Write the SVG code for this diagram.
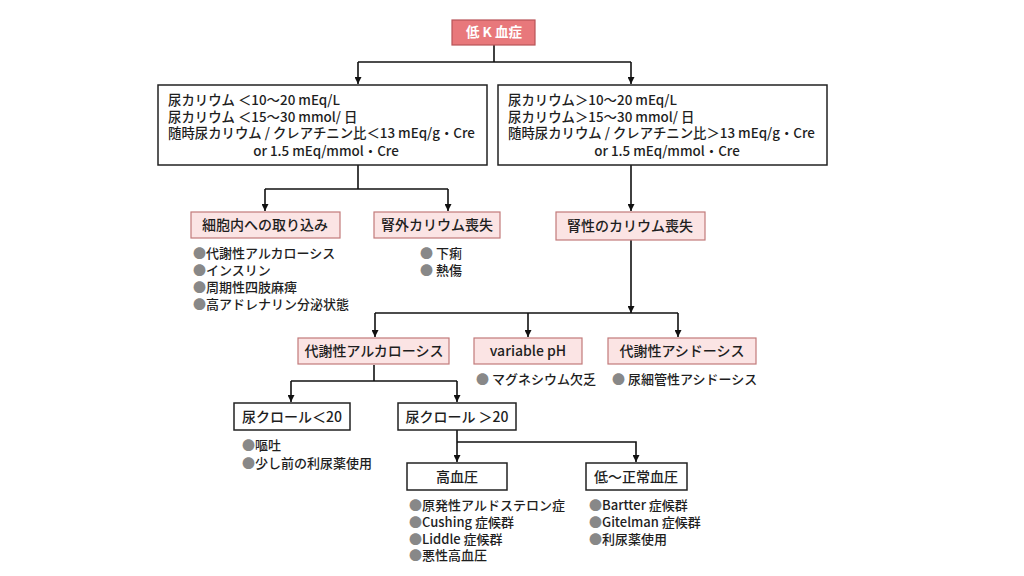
<svg xmlns="http://www.w3.org/2000/svg" width="1024" height="576" viewBox="0 0 1024 576">
<style>
text{font-family:"Noto Sans CJK JP","Noto Sans",sans-serif;fill:#1e1e1e;font-size:13px;font-weight:500}
.hd{font-size:13.4px}
.lb{font-size:14px}
.red{fill:#e8787b;stroke:#b85458;stroke-width:1.2}
.pink{fill:#fbe4e4;stroke:#c27a7a;stroke-width:1.2}
.wbox{fill:#fff;stroke:#222;stroke-width:1.5}
.c{text-anchor:middle}
.w{fill:#fff;font-weight:bold;font-size:13.5px}
.b{fill:#888}
.ln{fill:none;stroke:#111;stroke-width:1.6}
</style>
<defs>
<marker id="ah" viewBox="0 0 10 10" refX="10" refY="5" markerWidth="7" markerHeight="7" orient="auto" markerUnits="userSpaceOnUse">
<path d="M0,0 L10,5 L0,10 z" fill="#111"/>
</marker>
</defs>
<rect width="1024" height="576" fill="#fff"/>
<g id="connectors">
<path class="ln" d="M494,45 V62"/>
<path class="ln" d="M358,62 H631"/>
<path class="ln" d="M631,62 V84" marker-end="url(#ah)"/>
<path class="ln" d="M358,62 V84" marker-end="url(#ah)"/>
<path class="ln" d="M358,165 V189"/>
<path class="ln" d="M265,189 H448"/>
<path class="ln" d="M265,189 V211" marker-end="url(#ah)"/>
<path class="ln" d="M448,189 V211" marker-end="url(#ah)"/>
<path class="ln" d="M631,165 V211" marker-end="url(#ah)"/>
<path class="ln" d="M631,240 V313" marker-end="url(#ah)"/>
<path class="ln" d="M375,313 H678"/>
<path class="ln" d="M375,313 V337" marker-end="url(#ah)"/>
<path class="ln" d="M528,313 V337" marker-end="url(#ah)"/>
<path class="ln" d="M678,313 V337" marker-end="url(#ah)"/>
<path class="ln" d="M374,365 V381"/>
<path class="ln" d="M291,381 H457"/>
<path class="ln" d="M291,381 V402" marker-end="url(#ah)"/>
<path class="ln" d="M457,381 V402" marker-end="url(#ah)"/>
<path class="ln" d="M457,430 V462" marker-end="url(#ah)"/>
<path class="ln" d="M457,442 H636 V462" marker-end="url(#ah)"/>
</g>
<g id="n_root">
<rect class="red" x="452" y="20" width="83" height="25"/>
<text class="c w" x="494" y="37">低 K 血症</text>
</g>
<g id="n_low">
<rect class="wbox" x="158" y="85" width="329" height="80"/>
<text class="hd" x="168" y="105">尿カリウム ＜10～20 mEq/L<tspan x="168" dy="16.5">尿カリウム ＜15～30 mmol/ 日</tspan><tspan x="168" dy="16.5">随時尿カリウム / クレアチニン比＜13 mEq/g・Cre</tspan><tspan class="c" x="326" dy="17.5">or 1.5 mEq/mmol・Cre</tspan></text>
</g>
<g id="n_high">
<rect class="wbox" x="498" y="85" width="329" height="80"/>
<text class="hd" x="508" y="105">尿カリウム＞10～20 mEq/L<tspan x="508" dy="16.5">尿カリウム＞15～30 mmol/ 日</tspan><tspan x="508" dy="16.5">随時尿カリウム / クレアチニン比＞13 mEq/g・Cre</tspan><tspan class="c" x="667" dy="17.5">or 1.5 mEq/mmol・Cre</tspan></text>
</g>
<g id="n_intake">
<rect class="pink" x="191" y="212" width="149" height="26"/>
<text class="c lb" x="265" y="230">細胞内への取り込み</text>
<text x="193" y="258"><tspan class="b">●</tspan>代謝性アルカローシス<tspan x="193" dy="17"><tspan class="b">●</tspan>インスリン</tspan><tspan x="193" dy="17"><tspan class="b">●</tspan>周期性四肢麻痺</tspan><tspan x="193" dy="16.5"><tspan class="b">●</tspan>高アドレナリン分泌状態</tspan></text>
</g>
<g id="n_extra">
<rect class="pink" x="374" y="212" width="126" height="26"/>
<text class="c lb" x="437" y="230">腎外カリウム喪失</text>
<text x="420" y="258"><tspan class="b">●</tspan> 下痢<tspan x="420" dy="17"><tspan class="b">●</tspan> 熱傷</tspan></text>
</g>
<g id="n_renal">
<rect class="pink" x="556" y="212" width="149" height="28"/>
<text class="c lb" x="630" y="231">腎性のカリウム喪失</text>
</g>
<g id="n_alk">
<rect class="pink" x="298" y="338" width="151" height="26"/>
<text class="c lb" x="374" y="356">代謝性アルカローシス</text>
</g>
<g id="n_var">
<rect class="pink" x="474" y="338" width="108" height="26"/>
<text class="c lb" x="528" y="356">variable pH</text>
<text x="476" y="384"><tspan class="b">●</tspan> マグネシウム欠乏</text>
</g>
<g id="n_acid">
<rect class="pink" x="608" y="338" width="148" height="26"/>
<text class="c lb" x="682" y="356">代謝性アシドーシス</text>
<text x="612" y="384"><tspan class="b">●</tspan> 尿細管性アシドーシス</text>
</g>
<g id="n_cl_low">
<rect class="wbox" x="234" y="403" width="116" height="27"/>
<text class="c lb" x="292" y="422">尿クロール＜20</text>
<text x="242" y="450"><tspan class="b">●</tspan>嘔吐<tspan x="242" dy="18"><tspan class="b">●</tspan>少し前の利尿薬使用</tspan></text>
</g>
<g id="n_cl_high">
<rect class="wbox" x="398" y="403" width="118" height="27"/>
<text class="c lb" x="457" y="422">尿クロール ＞20</text>
</g>
<g id="n_htn">
<rect class="wbox" x="407" y="463" width="100" height="27"/>
<text class="c lb" x="457" y="482">高血圧</text>
<text x="409" y="510"><tspan class="b">●</tspan>原発性アルドステロン症<tspan x="409" dy="17"><tspan class="b">●</tspan>Cushing 症候群</tspan><tspan x="409" dy="17"><tspan class="b">●</tspan>Liddle 症候群</tspan><tspan x="409" dy="16"><tspan class="b">●</tspan>悪性高血圧</tspan></text>
</g>
<g id="n_normo">
<rect class="wbox" x="586" y="463" width="101" height="27"/>
<text class="c lb" x="636" y="482">低～正常血圧</text>
<text x="589" y="510"><tspan class="b">●</tspan>Bartter 症候群<tspan x="589" dy="17"><tspan class="b">●</tspan>Gitelman 症候群</tspan><tspan x="589" dy="17"><tspan class="b">●</tspan>利尿薬使用</tspan></text>
</g>
</svg>
